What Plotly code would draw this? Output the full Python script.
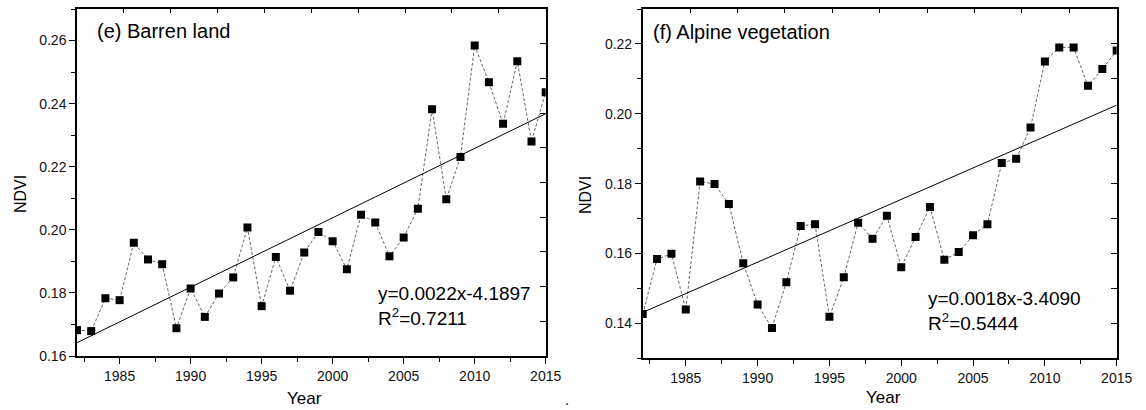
import numpy as np
import plotly.graph_objects as go

# ---------------- data ----------------
years = list(range(1982, 2016))
barren_ndvi = [0.1682, 0.1679, 0.1783, 0.1777, 0.1959, 0.1906, 0.1891, 0.1688, 0.1814, 0.1724,
               0.1798, 0.1849, 0.2007, 0.1758, 0.1914, 0.1807, 0.1928, 0.1993, 0.1964, 0.1875,
               0.2048, 0.2023, 0.1916, 0.1976, 0.2067, 0.2382, 0.2097, 0.2231, 0.2584, 0.2468,
               0.2336, 0.2534, 0.2280, 0.2436]
alpine_ndvi = [0.1427, 0.1584, 0.1599, 0.1440, 0.1806, 0.1799, 0.1742, 0.1572, 0.1454, 0.1387,
               0.1518, 0.1679, 0.1684, 0.1419, 0.1532, 0.1688, 0.1642, 0.1708, 0.1561, 0.1647,
               0.1733, 0.1582, 0.1604, 0.1652, 0.1684, 0.1859, 0.1871, 0.1961, 0.2150, 0.2190,
               0.2190, 0.2080, 0.2128, 0.2181]
panel_titles = ["(e) Barren land", "(f) Alpine vegetation"]
equations = ["y=0.0022x-4.1897<br>R<sup>2</sup>=0.7211",
             "y=0.0018x-3.4090<br>R<sup>2</sup>=0.5444"]
x_title = "Year"
y_title = "NDVI"

W, H = 1146, 410
FONT = "Liberation Sans, Arial, sans-serif"

def px(x):
    return x / W

def py(y):
    return 1 - y / H

fig = go.Figure()

panels = [
    dict(data=barren_ndvi, x="x", y="y", xt="x3", yr="y3",
         xdom=[px(77), px(545.7)], ydom=[py(356), py(9)], yrange=[0.16, 0.27], ytick0=0.16),
    dict(data=alpine_ndvi, x="x2", y="y2", xt="x4", yr="y4",
         xdom=[px(642.7), px(1116.7)], ydom=[py(358.3), py(9)], yrange=[0.13, 0.23], ytick0=0.14),
]

layout_axes = {}
for i, p in enumerate(panels):
    yv = np.array(p["data"])
    xv = np.array(years)
    # data (dashed connector + squares)
    fig.add_trace(go.Scatter(x=years, y=p["data"], mode="lines+markers",
                             line=dict(color="#555555", width=0.9, dash="3px,2px"),
                             marker=dict(symbol="square", size=8, color="black"),
                             xaxis=p["x"], yaxis=p["y"], showlegend=False))
    # linear fit
    k, b = np.polyfit(xv, yv, 1)
    xf = np.array([years[0], years[-1]])
    fig.add_trace(go.Scatter(x=xf, y=k * xf + b, mode="lines",
                             line=dict(color="black", width=1),
                             xaxis=p["x"], yaxis=p["y"], showlegend=False))
    # invisible trace for the mirror (top/right) axes
    fig.add_trace(go.Scatter(x=[0, 10], y=[0, 10], mode="markers", marker=dict(opacity=0),
                             xaxis=p["xt"], yaxis=p["yr"], showlegend=False, hoverinfo="skip"))

    xk = "xaxis" if i == 0 else "xaxis2"
    yk = "yaxis" if i == 0 else "yaxis2"
    xtk = "xaxis3" if i == 0 else "xaxis4"
    yrk = "yaxis3" if i == 0 else "yaxis4"
    layout_axes[xk] = dict(domain=p["xdom"], anchor=p["y"], range=[1982, 2015],
                           tick0=1980, dtick=5, ticks="outside", ticklen=6, tickwidth=1.3,
                           tickcolor="black", showline=True, linecolor="black", linewidth=1.5,
                           mirror=True, showgrid=False, zeroline=False,
                           tickfont=dict(family=FONT, size=14, color="#111"),
                           minor=dict(tick0=1980, dtick=2.5, ticks="outside", ticklen=4,
                                      tickwidth=1.2, tickcolor="black", showgrid=False))
    layout_axes[yk] = dict(domain=p["ydom"], anchor=p["x"], range=p["yrange"],
                           tick0=p["ytick0"], dtick=0.02, tickformat=".2f",
                           ticks="outside", ticklen=6, tickwidth=1.3, tickcolor="black",
                           showline=True, linecolor="black", linewidth=1.5, mirror=True,
                           showgrid=False, zeroline=False,
                           tickfont=dict(family=FONT, size=14, color="#111"),
                           minor=dict(tick0=p["ytick0"], dtick=0.01, ticks="outside", ticklen=4,
                                      tickwidth=1.2, tickcolor="black", showgrid=False))
    layout_axes[xtk] = dict(overlaying=p["x"], anchor=p["y"], side="top", range=[0, 10],
                            tick0=0, dtick=1, ticks="inside", ticklen=4, tickwidth=1.2,
                            tickcolor="black", showticklabels=False, showline=False,
                            showgrid=False, zeroline=False)
    layout_axes[yrk] = dict(overlaying=p["y"], anchor=p["x"], side="right", range=[0, 10],
                            tick0=0, dtick=1, ticks="inside", ticklen=6, tickwidth=1.2,
                            tickcolor="black", showticklabels=False, showline=False,
                            showgrid=False, zeroline=False)

annotations = [
    dict(text=panel_titles[0], x=px(95), y=py(31.5), xanchor="left", yanchor="middle",
         font=dict(family=FONT, size=20, color="black")),
    dict(text=panel_titles[1], x=px(651), y=py(32), xanchor="left", yanchor="middle",
         font=dict(family=FONT, size=20, color="black")),
    dict(text=equations[0], x=px(376), y=py(305.5), xanchor="left", yanchor="middle", align="left",
         font=dict(family=FONT, size=19, color="black")),
    dict(text=equations[1], x=px(925.5), y=py(310.8), xanchor="left", yanchor="middle", align="left",
         font=dict(family=FONT, size=19, color="black")),
    dict(text=y_title, x=px(20), y=py(194), textangle=-90, xanchor="center", yanchor="middle",
         font=dict(family=FONT, size=16, color="black")),
    dict(text=y_title, x=px(585), y=py(195), textangle=-90, xanchor="center", yanchor="middle",
         font=dict(family=FONT, size=16, color="black")),
    dict(text=x_title, x=px(304), y=py(398), xanchor="center", yanchor="middle",
         font=dict(family=FONT, size=17, color="black")),
    dict(text=x_title, x=px(883.5), y=py(397.5), xanchor="center", yanchor="middle",
         font=dict(family=FONT, size=17, color="black")),
    dict(text=".", x=px(567), y=0, xanchor="center", yanchor="bottom",
         font=dict(family=FONT, size=15, color="black")),
]
for a in annotations:
    a.update(xref="paper", yref="paper", showarrow=False)

fig.update_layout(width=W, height=H, margin=dict(l=0, r=0, t=0, b=0),
                  paper_bgcolor="white", plot_bgcolor="white", template="none",
                  showlegend=False, annotations=annotations, **layout_axes)

fig.write_html("out.html")
